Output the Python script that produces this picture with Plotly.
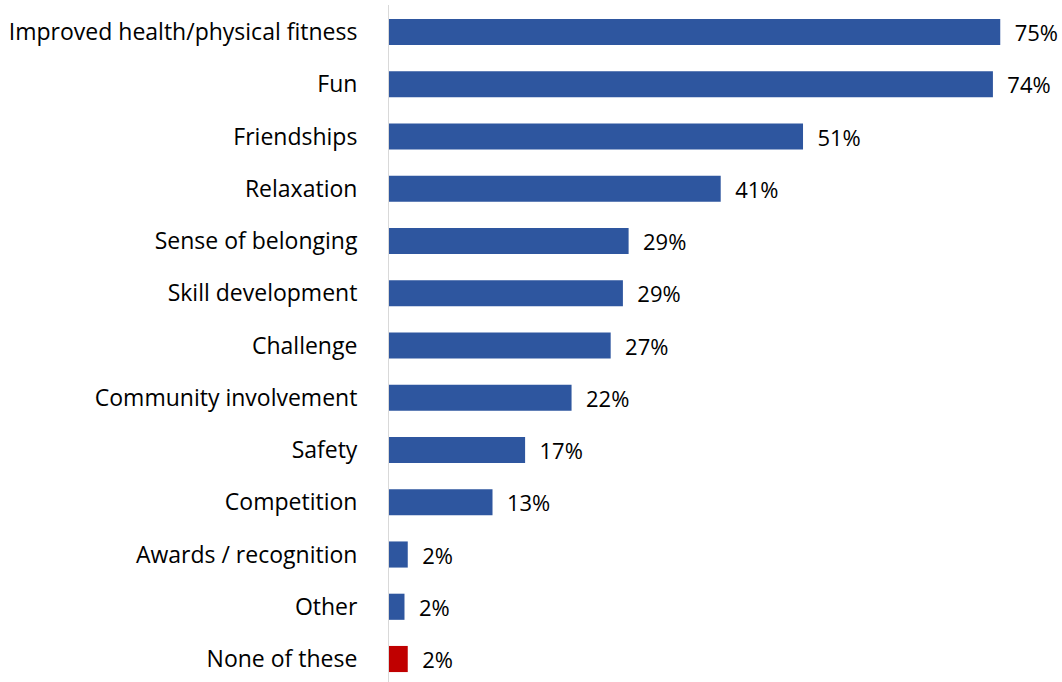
import plotly.graph_objects as go

categories = [
    "Improved health/physical fitness",
    "Fun",
    "Friendships",
    "Relaxation",
    "Sense of belonging",
    "Skill development",
    "Challenge",
    "Community involvement",
    "Safety",
    "Competition",
    "Awards / recognition",
    "Other",
    "None of these",
]
values = [75.0, 74.1, 50.8, 40.7, 29.4, 28.7, 27.2, 22.4, 16.7, 12.7, 2.3, 1.9, 2.3]
bar_colors = ["#2E569F"] * 12 + ["#C00000"]

FONT = "Open Sans"
SIZE = 23

fig = go.Figure(
    go.Bar(
        x=values,
        y=categories,
        orientation="h",
        marker=dict(color=bar_colors, line=dict(width=0)),
        width=0.5,
        text=[f"\u00a0\u00a0{v:.0f}%" for v in values],
        textposition="outside",
        constraintext="none",
        textfont=dict(family=FONT, size=SIZE - 1, color="#000000"),
        cliponaxis=False,
        hoverinfo="skip",
    )
)

fig.update_layout(
    width=1062,
    height=682,
    margin=dict(l=389, r=21, t=5, b=0),
    paper_bgcolor="white",
    plot_bgcolor="white",
    showlegend=False,
    uniformtext=dict(mode=False),
    font=dict(family=FONT, size=SIZE, color="#000000"),
    xaxis=dict(range=[0, 80], visible=False, fixedrange=True),
    yaxis=dict(
        range=[12.44, -0.517],
        showline=True,
        linecolor="#D9D9D9",
        linewidth=1,
        ticks="",
        showgrid=False,
        ticklabelstandoff=26,
        tickfont=dict(family=FONT, size=SIZE, color="#000000"),
        fixedrange=True,
    ),
)

fig.write_html("out.html")
